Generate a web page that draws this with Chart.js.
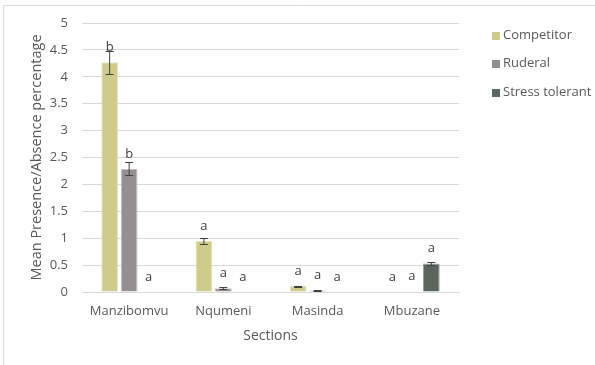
<!DOCTYPE html>
<html><head><meta charset="utf-8">
<script src="https://cdn.jsdelivr.net/npm/chart.js@4"></script>
<style>html,body{margin:0;padding:0;background:#fff}#wrap{width:595px;height:365px}</style>
</head><body><div id="wrap"><canvas id="c" width="595" height="365"></canvas></div>
<script>
const categories = ['Manzibomvu', 'Nqumeni', 'Masinda', 'Mbuzane'];
const seriesNames = ['Competitor', 'Ruderal', 'Stress tolerant'];
const competitor = [4.27, 0.95, 0.11, 0];
const ruderal = [2.29, 0.07, 0.03, 0.01];
const stressTolerant = [0, 0, 0, 0.53];
const competitorErr = [0.21, 0.05, 0.01, 0];
const ruderalErr = [0.12, 0.015, 0.005, 0];
const stressErr = [0, 0, 0, 0.025];
const competitorLetters = ['b', 'a', 'a', 'a'];
const ruderalLetters = ['b', 'a', 'a', 'a'];
const stressLetters = ['a', 'a', 'a', 'a'];
const yTicks = [0, 0.5, 1, 1.5, 2, 2.5, 3, 3.5, 4, 4.5, 5];

const colors = ['#CFCB8B', '#958F8F', '#5B665F'];
const FONT = '"Open Sans", sans-serif';
const TXT = '#595959';

const errs = [competitorErr, ruderalErr, stressErr];
const letters = [competitorLetters, ruderalLetters, stressLetters];

const decor = {
  id: 'decor',
  beforeDraw(chart) {
    const ctx = chart.ctx;
    ctx.save();
    ctx.strokeStyle = '#D9D9D9';
    ctx.lineWidth = 1;
    ctx.beginPath();
    ctx.moveTo(3.5, 365); ctx.lineTo(3.5, 5.5); ctx.lineTo(595, 5.5);
    ctx.stroke();
    ctx.restore();
  },
  afterDatasetsDraw(chart) {
    const ctx = chart.ctx;
    const y = chart.scales.y;
    ctx.save();
    chart.data.datasets.forEach((ds, di) => {
      const meta = chart.getDatasetMeta(di);
      meta.data.forEach((bar, i) => {
        const v = ds.data[i];
        const e = errs[di][i];
        const x = bar.x;
        if (e > 0) {
          const yt = Math.round(y.getPixelForValue(v + e)) + 0.5;
          const yb = Math.round(y.getPixelForValue(v - e)) + 0.5;
          ctx.strokeStyle = '#404040';
          ctx.lineWidth = 1;
          ctx.beginPath();
          ctx.moveTo(x, yt); ctx.lineTo(x, yb);
          ctx.moveTo(x - 4, yt); ctx.lineTo(x + 4, yt);
          ctx.moveTo(x - 4, yb); ctx.lineTo(x + 4, yb);
          ctx.stroke();
        }
        ctx.fillStyle = '#404040';
        ctx.font = '13px ' + FONT;
        ctx.textAlign = 'center';
        ctx.textBaseline = 'alphabetic';
        ctx.fillText(letters[di][i], x, y.getPixelForValue(v) - 11);
      });
    });
    // legend
    const ly = [35, 63, 92];
    seriesNames.forEach((name, k) => {
      ctx.fillStyle = colors[k];
      ctx.fillRect(492, ly[k] - 3, 8, 8);
      ctx.fillStyle = TXT;
      ctx.font = '13px ' + FONT;
      ctx.textAlign = 'left';
      ctx.textBaseline = 'middle';
      ctx.fillText(name, 503, ly[k]);
    });
    ctx.restore();
  }
};

new Chart(document.getElementById('c'), {
  type: 'bar',
  data: {
    labels: categories,
    datasets: [
      { label: seriesNames[0], data: competitor, backgroundColor: colors[0], borderColor: '#E6E3C3', borderWidth: 1 },
      { label: seriesNames[1], data: ruderal, backgroundColor: colors[1], borderColor: '#C4C1C1', borderWidth: 1 },
      { label: seriesNames[2], data: stressTolerant, backgroundColor: colors[2], borderColor: '#9AA39D', borderWidth: 1 }
    ]
  },
  options: {
    responsive: false,
    animation: false,
    devicePixelRatio: 1,
    layout: { padding: { top: 23, right: 136, left: 0, bottom: 0 } },
    plugins: { legend: { display: false }, tooltip: { enabled: false } },
    datasets: { bar: { categoryPercentage: 0.62, barPercentage: 0.86 } },
    scales: {
      x: {
        grid: { display: false, drawTicks: false },
        border: { display: true, color: '#D9D9D9', width: 1 },
        ticks: { color: TXT, font: { family: FONT, size: 13 }, padding: 11 },
        title: { display: true, text: 'Sections', color: TXT, font: { family: FONT, size: 14 }, padding: { top: 0, bottom: 21 } },
        afterFit(s) { s.height = 73; }
      },
      y: {
        min: 0, max: 5,
        afterBuildTicks(s) { s.ticks = yTicks.map(v => ({ value: v })); },
        grid: { color: '#D9D9D9', drawTicks: false },
        border: { display: false },
        ticks: { color: TXT, font: { family: FONT, size: 13 }, padding: 14, callback: v => String(v) },
        title: { display: true, text: 'Mean Presence/Absence percentage', color: TXT, font: { family: FONT, size: 14.5 }, padding: { top: 28, bottom: 0 } },
        afterFit(s) { s.width = 82; }
      }
    }
  },
  plugins: [decor]
});
</script></body></html>
